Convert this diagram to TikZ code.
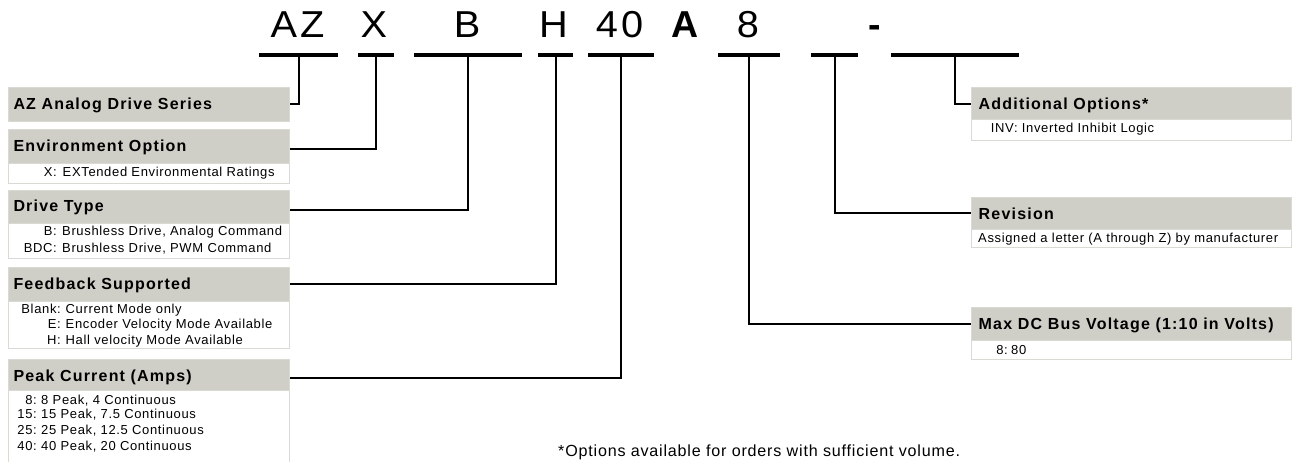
\documentclass[tikz,border=0pt]{standalone}
\usepackage{fontspec}
\setmainfont{Liberation Sans}
\newfontfamily\topfont{Liberation Sans}[LetterSpace=8]
\newfontfamily\hfont{Liberation Sans}[LetterSpace=7.5]
\newfontfamily\bfont{Liberation Sans}[LetterSpace=5]
\definecolor{hdrgray}{RGB}{207,207,199}
\definecolor{boxline}{RGB}{218,218,212}
\newcommand{\bl}[6]{%
  \node[btxt,anchor=base east] (#1l) at (#2,#3) {#5:};
  \node[btxt,anchor=base west] (#1d) at (#4,#3) {#6};}
\begin{document}
\begin{tikzpicture}[x=1pt,y=-1pt,
  bar/.style={fill=black, minimum height=4pt, inner sep=0pt, anchor=west},
  conn/.style={draw=black, line width=2pt},
  hdr/.style={draw=boxline, line width=0.8pt, fill=hdrgray, inner sep=0pt, anchor=north west},
  bodybox/.style={draw=boxline, line width=0.8pt, fill=white, inner sep=0pt, anchor=north west},
  htxt/.style={inner sep=0pt, anchor=base west, font=\hfont\bfseries\fontsize{16}{18}\selectfont},
  btxt/.style={inner sep=0pt, font=\bfont\fontsize{13}{15}\selectfont},
  topl/.style={inner sep=0pt, anchor=base, font=\topfont\fontsize{37.5}{40}\selectfont},
  topb/.style={inner sep=0pt, anchor=base, font=\topfont\bfseries\fontsize{37.5}{40}\selectfont}]
\useasboundingbox (0,0) rectangle (1292,461);

% top code letters
\node[topl] (lAZ) at (297.5,37) {\scalebox{1.06}[1]{AZ}};
\node[topl] (lX) at (374,37) {\scalebox{1.06}[1]{X}};
\node[topl] (lB) at (467,37) {\scalebox{1.06}[1]{B}};
\node[topl] (lH) at (553.5,37) {\scalebox{1.06}[1]{H}};
\node[topl] (l40) at (619.5,37) {\scalebox{1.06}[1]{40}};
\node[topb] (lA) at (685.5,37) {A};
\node[topl] (l8) at (748,37) {\scalebox{1.06}[1]{8}};
\node[topb] (lDash) at (875,37) {-};

% bars
\node[bar, minimum width=79pt] (bAZ) at (259,55) {};
\node[bar, minimum width=36pt] (bX) at (358,55) {};
\node[bar, minimum width=108pt] (bB) at (414,55) {};
\node[bar, minimum width=35pt] (bH) at (538,55) {};
\node[bar, minimum width=66pt] (b40) at (588,55) {};
\node[bar, minimum width=62pt] (b8) at (718,55) {};
\node[bar, minimum width=47pt] (bRev) at (811,55) {};
\node[bar, minimum width=128pt] (bOpt) at (891,55) {};

% left boxes
\node[hdr, minimum width=281pt, minimum height=34pt] (hAZ) at (8,87) {};
\node[htxt] (tAZ) at (13.3,109.3) {AZ Analog Drive Series};

\node[bodybox, minimum width=281pt, minimum height=20.6pt] (bodyEnv) at (8,162.7) {};
\node[hdr, minimum width=281pt, minimum height=33.4pt] (hEnv) at (8,129.3) {};
\node[htxt] (tEnv) at (13.3,151.6) {Environment Option};
\bl{e1}{57}{176}{62.5}{X}{EXTended Environmental Ratings}

\node[bodybox, minimum width=281pt, minimum height=35.6pt] (bodyDrive) at (8,222.7) {};
\node[hdr, minimum width=281pt, minimum height=32.7pt] (hDrive) at (8,190) {};
\node[htxt] (tDrive) at (13.3,211.5) {Drive Type};
\bl{d1}{57}{235}{62}{B}{Brushless Drive, Analog Command}
\bl{d2}{57}{252.7}{62}{BDC}{Brushless Drive, PWM Command}

\node[bodybox, minimum width=281pt, minimum height=47.6pt] (bodyFeed) at (8,300.7) {};
\node[hdr, minimum width=281pt, minimum height=33.4pt] (hFeed) at (8,267.3) {};
\node[htxt] (tFeed) at (13.3,289.6) {Feedback Supported};
\bl{f1}{61}{313.3}{65.5}{Blank}{Current Mode only}
\bl{f2}{61}{328.3}{65.5}{E}{Encoder Velocity Mode Available}
\bl{f3}{61}{344.3}{65.5}{H}{Hall velocity Mode Available}

\node[bodybox, minimum width=281pt, minimum height=90pt] (bodyPeak) at (8,390) {};
\node[hdr, minimum width=281pt, minimum height=30.7pt] (hPeak) at (8,359.3) {};
\node[htxt] (tPeak) at (13.3,381) {Peak Current (Amps)};
\bl{p1}{37}{404.5}{41}{8}{8 Peak, 4 Continuous}
\bl{p2}{37}{418.5}{41}{15}{15 Peak, 7.5 Continuous}
\bl{p3}{37}{434.3}{41}{25}{25 Peak, 12.5 Continuous}
\bl{p4}{37}{450}{41}{40}{40 Peak, 20 Continuous}

% right boxes
\node[bodybox, minimum width=320pt, minimum height=20.7pt] (bodyAdd) at (971,119.3) {};
\node[hdr, minimum width=320pt, minimum height=32pt] (hAdd) at (971,87.3) {};
\node[htxt] (tAdd) at (978.5,109.6) {Additional Options*};
\node[btxt, anchor=base west] (a1) at (990.7,132) {INV: Inverted Inhibit Logic};

\node[bodybox, minimum width=320pt, minimum height=18pt] (bodyRev) at (971,229.3) {};
\node[hdr, minimum width=320pt, minimum height=32.6pt] (hRev) at (971,196.7) {};
\node[htxt] (tRev) at (978.5,219) {Revision};
\node[btxt, anchor=base west] (r1) at (978,242) {Assigned a letter (A through Z) by manufacturer};

\node[bodybox, minimum width=320pt, minimum height=19pt] (bodyMax) at (971,340) {};
\node[hdr, minimum width=320pt, minimum height=33pt] (hMax) at (971,307) {};
\node[htxt] (tMax) at (978.5,329.3) {Max DC Bus Voltage (1:10 in Volts)};
\bl{m1}{1008}{354}{1011}{8}{80}

% connectors
\draw[conn] (bAZ.center) |- (hAZ.east);
\draw[conn] (bX.center) |- ([yshift=-2.3pt]hEnv.east);
\draw[conn] (bB.center) |- ([yshift=-3.6pt]hDrive.east);
\draw[conn] (bH.center) |- (hFeed.east);
\draw[conn] (b40.center) |- ([yshift=-2.5pt]hPeak.east);
\draw[conn] (b8.center) |- (hMax.west);
\draw[conn] (bRev.center) |- (hRev.west);
\draw[conn] (bOpt.center) |- (hAdd.west);

% footnote
\node[inner sep=0pt, anchor=base west, font=\bfont\fontsize{16.1}{18}\selectfont] (note) at (558,456.7) {*Options available for orders with sufficient volume.};
\end{tikzpicture}
\end{document}
